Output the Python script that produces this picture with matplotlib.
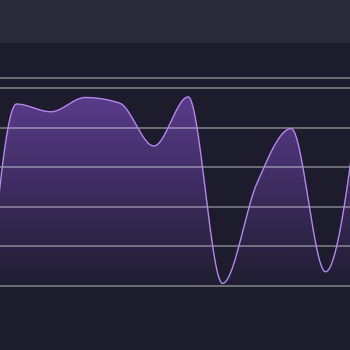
import numpy as np
import matplotlib
matplotlib.use("Agg")
import matplotlib.pyplot as plt
from matplotlib.patches import Polygon

# Data
x_idx = list(range(12))
values = [-50.0, 91.9, 88.0, 95.2, 92.4, 70.7, 95.5, 1.3, 51.8, 79.5, 7.2, 98.0]
grid_values = [0, 20, 40, 60, 80, 100, 105]

BG = "#1c1c2c"
BAND = "#282a3a"
LINE = "#b487ee"
FILL = (0.50, 0.31, 0.78)


def monotone(xs, ys, n=60):
    xs = np.asarray(xs, float); ys = np.asarray(ys, float)
    m = len(xs)
    h = np.diff(xs); s = np.diff(ys) / h
    t = np.zeros(m)
    for i in range(1, m - 1):
        s0, s1 = s[i - 1], s[i]
        p = (s0 * h[i] + s1 * h[i - 1]) / (h[i - 1] + h[i])
        t[i] = (np.sign(s0) + np.sign(s1)) * min(abs(s0), abs(s1), 0.5 * abs(p))
    t[0] = (3 * s[0] - t[1]) / 2
    t[-1] = (3 * s[-1] - t[-2]) / 2
    X, Y = [], []
    for i in range(m - 1):
        u = np.linspace(0, 1, n, endpoint=(i == m - 2))
        x0, x1 = xs[i], xs[i + 1]; y0, y1 = ys[i], ys[i + 1]
        dx = (x1 - x0) / 3
        p0 = (x0, y0); p1 = (x0 + dx, y0 + dx * t[i]); p2 = (x1 - dx, y1 - dx * t[i + 1]); p3 = (x1, y1)
        bx = (1-u)**3*p0[0] + 3*(1-u)**2*u*p1[0] + 3*(1-u)*u**2*p2[0] + u**3*p3[0]
        by = (1-u)**3*p0[1] + 3*(1-u)**2*u*p1[1] + 3*(1-u)*u**2*p2[1] + u**3*p3[1]
        X.extend(bx); Y.extend(by)
    return np.array(X), np.array(Y)


fig = plt.figure(figsize=(3.5, 3.5), dpi=100)
fig.patch.set_facecolor(BG)
ax = fig.add_axes([0, 0, 1, 1])
ax.set_facecolor(BG)

# pixel mapping: x_px = -17.8 + 34.33*i ; y_px = 286 - 1.98*v
x0 = 17.8 / 34.33
ax.set_xlim(x0, x0 + 350 / 34.33)
ax.set_ylim((286 - 350) / 1.98, 286 / 1.98)

ax.axhspan((286 - 42.5) / 1.98, 286 / 1.98, color=BAND, lw=0, zorder=0)

X, Y = monotone(x_idx, values)

verts = np.vstack([np.column_stack([X, Y]), [[X[-1], 0], [X[0], 0]]])
poly = Polygon(verts, closed=True, facecolor="none", edgecolor="none")
ax.add_patch(poly)

top = 96.0
grad = np.zeros((256, 1, 4))
a = np.linspace(0.62, 0.03, 256)
grad[:, 0, 0] = FILL[0]; grad[:, 0, 1] = FILL[1]; grad[:, 0, 2] = FILL[2]
grad[:, 0, 3] = a
im = ax.imshow(grad, extent=[X.min(), X.max(), 0, top], origin="upper",
               aspect="auto", zorder=1, interpolation="bilinear")
im.set_clip_path(poly)

for g in grid_values:
    ax.axhline(g, color="white", alpha=0.45, lw=1.1, zorder=2)

ax.plot(X, Y, color=LINE, lw=1.0, zorder=3)

ax.set_xlim(x0, x0 + 350 / 34.33)
ax.set_ylim((286 - 350) / 1.98, 286 / 1.98)
ax.axis("off")
fig.savefig("out.png", dpi=100, facecolor=BG)
